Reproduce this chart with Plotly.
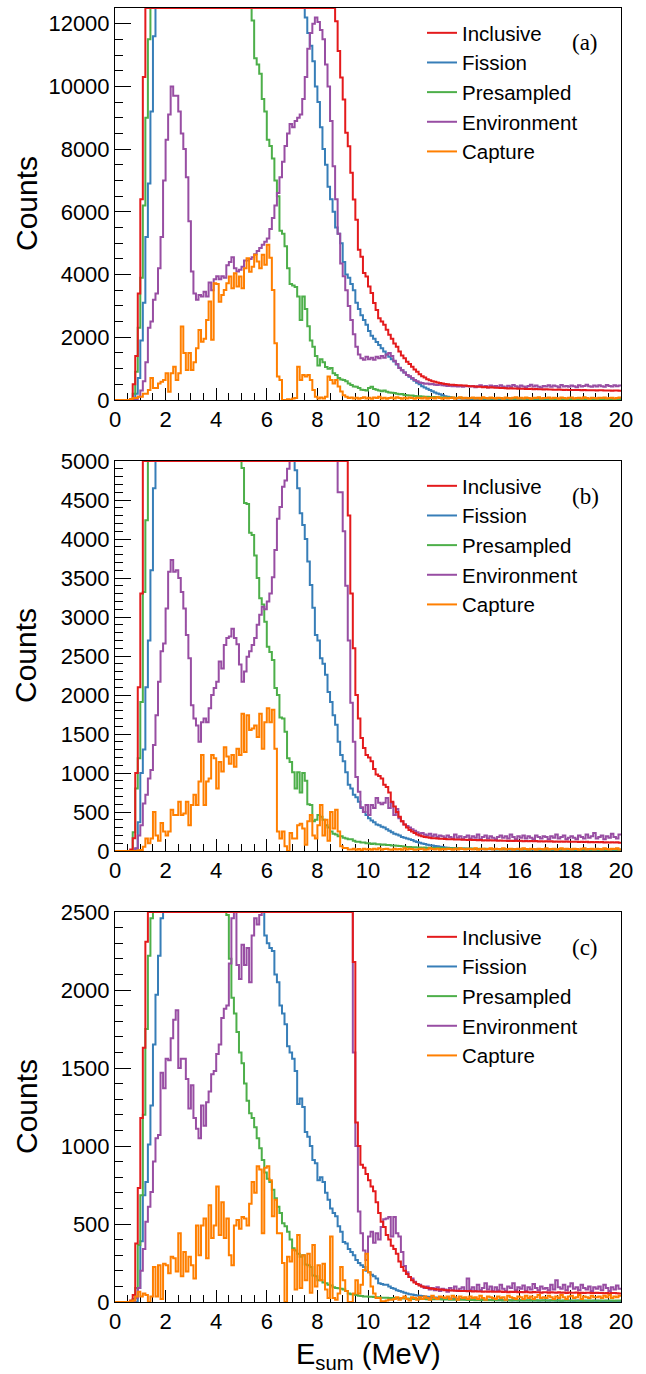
import numpy as np
import plotly.graph_objects as go

# ---------------- binning ----------------
BIN_WIDTH = 0.1            # MeV
N_BINS = 200               # 0 .. 20 MeV
X_MAX = 20

# ---------------- panel (a) ----------------
INCLUSIVE_A = [
    0, 0, 0, 0, 0, 0, 30, 500, 1400, 3400,
    6400, 10300, 15000, 19500, 23500, 27000, 30000, 32000, 33500, 34500,
    35500, 36500, 37000, 37000, 36500, 35500, 34500, 33500, 32500, 31500,
    31000, 30500, 30000, 30000, 30000, 30500, 31000, 31500, 32000, 32500,
    33000, 33500, 34000, 34500, 35000, 35000, 35500, 36000, 36500, 37000,
    37500, 38000, 38000, 38500, 38500, 38000, 37500, 37000, 36000, 35000,
    34000, 33000, 32000, 31000, 30000, 29000, 28000, 27000, 26000, 25000,
    24500, 24000, 23500, 23000, 22000, 21000, 20000, 19000, 18000, 17000,
    16000, 15000, 14500, 14000, 13500, 13000, 12800, 12080, 11130, 10280,
    9580, 8520, 8090, 7250, 6390, 5750, 4790, 4570, 4050, 3940,
    3620, 3410, 3090, 2870, 2610, 2500, 2400, 2240, 2080, 1950,
    1800, 1700, 1550, 1420, 1330, 1220, 1150, 1060, 970, 900,
    820, 760, 720, 660, 630, 600, 580, 560, 540, 530,
    510, 500, 490, 490, 480, 470, 470, 460, 460, 450,
    440, 435, 430, 425, 420, 410, 415, 400, 405, 395,
    390, 392, 380, 385, 378, 370, 372, 365, 368, 360,
    362, 355, 352, 350, 355, 345, 348, 340, 342, 338,
    340, 332, 335, 330, 328, 332, 325, 322, 326, 320,
    322, 318, 315, 320, 312, 316, 310, 314, 308, 312,
    305, 308, 310, 302, 305, 300, 298, 304, 300, 296,
]
FISSION_A = [
    0, 0, 0, 0, 0, 0, 0, 0, 200, 700,
    1900, 3100, 5200, 6900, 9200, 11600, 14000, 17000, 20000, 22000,
    24000, 25000, 26000, 26500, 27000, 27000, 27000, 26500, 26000, 25500,
    25000, 25000, 25000, 25000, 25500, 26000, 26000, 26500, 27000, 27000,
    27500, 28000, 28000, 28500, 28500, 29000, 29000, 29000, 29000, 29000,
    29000, 28500, 28500, 28000, 27500, 27000, 26500, 26000, 25000, 24000,
    23000, 22000, 21000, 20000, 19000, 18000, 17000, 16000, 15500, 15000,
    14500, 14000, 13500, 13000, 12700, 12200, 11700, 11300, 10800, 10000,
    9500, 8700, 8000, 7500, 6800, 6400, 6000, 5500, 5300, 5000,
    4400, 4000, 3900, 3700, 3500, 3100, 2900, 2700, 2550, 2400,
    2200, 2050, 1950, 1850, 1750, 1650, 1550, 1450, 1380, 1300,
    1230, 1130, 1030, 950, 880, 800, 740, 680, 610, 550,
    500, 440, 400, 360, 320, 280, 240, 210, 180, 150,
    120, 100, 85, 70, 60, 50, 45, 40, 38, 35,
    33, 30, 32, 28, 30, 27, 25, 28, 24, 22,
    25, 22, 20, 23, 19, 21, 18, 20, 17, 19,
    18, 16, 19, 15, 17, 16, 14, 17, 15, 13,
    16, 14, 15, 13, 15, 12, 14, 13, 11, 14,
    12, 13, 11, 12, 10, 13, 11, 10, 12, 10,
    11, 9, 12, 10, 9, 11, 10, 8, 10, 9,
]
PRESAMPLED_A = [
    0, 0, 0, 0, 0, 0, 0, 200, 900, 2300,
    3900, 6200, 9000, 11500, 14000, 16000, 18000, 19500, 20500, 21500,
    22000, 22500, 22800, 23000, 23000, 22800, 22500, 22000, 21800, 21500,
    21200, 21000, 20800, 20500, 20200, 20000, 19700, 19400, 19000, 18700,
    18400, 18000, 17700, 17400, 17000, 16700, 16400, 16000, 15700, 15400,
    15000, 14600, 14200, 13600, 12100, 10900, 10700, 10400, 9600, 9200,
    8300, 8100, 7700, 7000, 6500, 5400, 5300, 4900, 4200, 3700,
    3650, 3600, 3300, 2550, 3300, 2900, 2350, 1900, 1700, 1400,
    1100, 1300, 1200, 1050, 1000, 1020, 850, 800, 700, 650,
    640, 600, 530, 480, 430, 420, 380, 330, 320, 300,
    380, 420, 350, 330, 300, 280, 300, 260, 240, 230,
    220, 200, 180, 190, 160, 150, 140, 140, 130, 120,
    120, 110, 105, 100, 95, 90, 92, 85, 88, 82,
    80, 75, 78, 70, 72, 66, 70, 62, 65, 60,
    58, 62, 55, 60, 52, 56, 50, 54, 48, 52,
    50, 46, 52, 44, 48, 45, 50, 42, 46, 44,
    45, 40, 44, 38, 42, 40, 36, 42, 38, 40,
    36, 40, 34, 38, 35, 32, 38, 34, 30, 36,
    34, 30, 35, 32, 28, 34, 30, 33, 28, 31,
    30, 34, 28, 32, 30, 27, 33, 29, 31, 35,
]
ENVIRONMENT_A = [
    0, 0, 0, 0, 0, 0, 0, 0, 0, 100,
    300, 600, 1200, 2300, 2500, 3200, 3400, 4200, 5200, 7000,
    8300, 9100, 10000, 9700, 9700, 9200, 8500, 8000, 7100, 5700,
    4100, 3400, 3200, 3350, 3300, 3450, 3300, 3750, 3500, 3850,
    3950, 3850, 3950, 3900, 4300, 4400, 4550, 4200, 4100, 4150,
    4250, 4450, 4450, 4500, 4550, 4650, 4750, 4850, 4950, 5050,
    5150, 5450, 5800, 6200, 6600, 7100, 7600, 8100, 8500, 8800,
    8700, 8900, 9000, 9100, 9600, 10300, 11200, 11700, 12000, 12200,
    12050, 11800, 11500, 10700, 10000, 8900, 7450, 6400, 5300, 4350,
    3950, 3500, 3000, 2550, 2100, 1700, 1450, 1330, 1280, 1380,
    1300, 1350, 1280, 1380, 1330, 1400, 1350, 1450, 1500, 1400,
    1250, 1150, 1020, 950, 880, 800, 760, 700, 640, 600,
    560, 540, 520, 530, 500, 510, 490, 480, 500, 470,
    460, 450, 455, 440, 450, 430, 445, 420, 440, 435,
    430, 450, 410, 440, 470, 420, 445, 400, 460, 430,
    450, 410, 470, 430, 400, 455, 420, 480, 440, 410,
    460, 430, 410, 450, 490, 430, 460, 420, 400, 450,
    430, 470, 420, 460, 440, 410, 480, 430, 450, 420,
    460, 440, 410, 470, 430, 450, 490, 440, 420, 460,
    430, 470, 440, 420, 480, 450, 430, 470, 440, 460,
]
CAPTURE_A = [
    0, 0, 0, 0, 0, 0, 30, 60, 60, 100,
    100, 200, 200, 320, 700, 380, 380, 530, 580, 640,
    850, 260, 850, 1060, 640, 850, 2340, 1500, 960, 1500,
    960, 1200, 1650, 2230, 1860, 1950, 2550, 3140, 1920, 3720,
    3700, 3130, 3350, 3510, 3720, 3940, 3560, 4040, 3620, 3940,
    3560, 4200, 4520, 4090, 4250, 4630, 4420, 4200, 4630, 4310,
    4950, 4540, 3510, 1810, 750, 640, 0, 0, 20, 0,
    50, 60, 1060, 640, 800, 750, 800, 640, 320, 100,
    50, 80, 50, 100, 750, 640, 530, 640, 430, 270,
    150, 100, 60, 80, 50, 70, 40, 60, 90, 50,
    70, 40, 80, 60, 100, 50, 70, 40, 60, 80,
    50, 90, 60, 40, 70, 50, 80, 60, 40, 70,
    60, 50, 80, 40, 60, 70, 50, 90, 60, 40,
    70, 50, 60, 80, 40, 60, 90, 50, 70, 50,
    60, 80, 50, 70, 40, 90, 60, 50, 80, 60,
    50, 70, 60, 40, 80, 60, 50, 70, 90, 50,
    70, 50, 80, 60, 40, 70, 60, 90, 50, 60,
    60, 80, 50, 70, 60, 40, 80, 60, 50, 70,
    80, 50, 60, 70, 50, 90, 60, 40, 70, 60,
    50, 70, 60, 80, 50, 60, 70, 50, 60, 80,
]

# ---------------- panel (b) ----------------
INCLUSIVE_B = [
    0, 0, 0, 0, 0, 0, 20, 165, 1000, 2100,
    3300, 5600, 7500, 9000, 10000, 10800, 11500, 12000, 12500, 12800,
    13000, 13200, 13300, 13300, 13200, 13000, 12800, 12500, 12200, 12000,
    11800, 11600, 11500, 11500, 11500, 11600, 11700, 11800, 12000, 12100,
    12200, 12300, 12400, 12500, 12600, 12700, 12700, 12800, 12800, 12800,
    12800, 12700, 12600, 12500, 12300, 12100, 11900, 11600, 11300, 11000,
    10700, 10400, 10100, 9800, 9500, 9200, 8900, 8600, 8400, 8200,
    8000, 7800, 7600, 7400, 7200, 7000, 6800, 6600, 6400, 6200,
    6000, 5900, 5800, 5700, 5600, 5500, 5400, 5300, 5200, 5100,
    5100, 5050, 4300, 3300, 2600, 2000, 1700, 1450, 1320, 1230,
    1200, 1150, 1050, 980, 960, 930, 850, 820, 750, 630,
    570, 500, 440, 380, 340, 300, 270, 250, 230, 210,
    200, 190, 180, 175, 170, 165, 162, 160, 158, 156,
    155, 152, 150, 150, 148, 146, 148, 145, 144, 142,
    145, 140, 142, 138, 140, 136, 139, 135, 137, 134,
    136, 132, 134, 130, 133, 129, 131, 128, 132, 127,
    130, 126, 129, 125, 128, 124, 127, 123, 126, 122,
    125, 121, 124, 120, 123, 119, 122, 118, 121, 117,
    120, 117, 119, 115, 118, 114, 117, 113, 116, 112,
    115, 112, 114, 110, 113, 109, 112, 108, 111, 107,
]
FISSION_B = [
    0, 0, 0, 0, 0, 0, 0, 0, 30, 370,
    1000, 1300, 2100, 2700, 3600, 4650, 5800, 7000, 8000, 9000,
    9800, 10300, 10700, 11000, 11200, 11300, 11400, 11400, 11400, 11300,
    11200, 11100, 11000, 11000, 11000, 11000, 11100, 11200, 11300, 11400,
    11500, 11600, 11700, 11700, 11800, 11800, 11800, 11700, 11600, 11500,
    11300, 11100, 10900, 10700, 10400, 10100, 9800, 9500, 9200, 8900,
    8600, 8300, 8000, 7700, 7400, 7100, 6800, 6500, 6200, 5900,
    5500, 4880, 4650, 4330, 4180, 4000, 3710, 3410, 3120, 2770,
    2700, 2470, 2400, 2260, 2040, 1910, 1740, 1620, 1400, 1230,
    1150, 1010, 850, 800, 720, 690, 630, 550, 500, 460,
    420, 390, 370, 340, 330, 310, 300, 280, 260, 240,
    220, 210, 200, 180, 170, 160, 150, 140, 125, 115,
    105, 95, 90, 80, 75, 70, 65, 60, 55, 50,
    45, 42, 40, 38, 36, 35, 33, 32, 30, 29,
    28, 27, 26, 25, 24, 23, 24, 22, 21, 22,
    20, 21, 19, 20, 18, 19, 17, 18, 16, 17,
    16, 15, 17, 14, 16, 15, 13, 15, 14, 13,
    14, 12, 13, 12, 14, 11, 13, 12, 11, 12,
    11, 12, 10, 11, 12, 10, 11, 9, 10, 11,
    10, 9, 11, 10, 8, 10, 9, 10, 8, 9,
]
PRESAMPLED_B = [
    0, 0, 0, 0, 0, 0, 0, 240, 800, 1190,
    1910, 3320, 4240, 5800, 7000, 8000, 8800, 9400, 9800, 10000,
    10100, 10100, 10000, 9900, 9800, 9700, 9500, 9300, 9100, 8900,
    8700, 8500, 8300, 8100, 7900, 7700, 7500, 7300, 7100, 6900,
    6700, 6500, 6300, 6200, 6000, 5900, 5700, 5600, 5400, 5200,
    4910, 4460, 4450, 4080, 4050, 3790, 3500, 3240, 3160, 2940,
    2620, 2550, 2450, 2090, 2000, 1710, 1700, 1530, 1190, 1140,
    1010, 800, 1010, 750, 1000, 900, 600, 590, 380, 400,
    460, 440, 400, 330, 300, 250, 220, 210, 190, 190,
    170, 160, 150, 150, 130, 120, 120, 110, 110, 100,
    100, 90, 95, 85, 88, 80, 82, 76, 78, 72,
    70, 68, 64, 60, 56, 52, 50, 48, 47, 45,
    45, 43, 44, 40, 42, 38, 40, 37, 38, 35,
    35, 33, 36, 32, 34, 30, 33, 29, 31, 30,
    31, 28, 30, 27, 29, 26, 28, 25, 27, 26,
    27, 24, 26, 23, 25, 22, 26, 23, 24, 22,
    24, 21, 23, 20, 24, 21, 22, 19, 23, 20,
    22, 19, 21, 18, 22, 20, 19, 21, 18, 20,
    20, 18, 21, 17, 19, 20, 18, 21, 17, 19,
    19, 17, 20, 18, 16, 19, 18, 20, 17, 18,
]
ENVIRONMENT_B = [
    0, 0, 0, 0, 0, 0, 0, 0, 35, 200,
    330, 610, 720, 930, 1040, 1360, 1740, 2170, 2560, 2660,
    3110, 3580, 3730, 3580, 3600, 3500, 3320, 3110, 2770, 2470,
    1870, 1700, 1610, 1400, 1650, 1700, 1650, 1830, 2000, 2090,
    2170, 2430, 2340, 2640, 2730, 2750, 2850, 2730, 2650, 2390,
    2170, 2300, 2490, 2560, 2640, 2730, 2900, 3030, 3130, 3100,
    3200, 3300, 3510, 3860, 4260, 4410, 4670, 4750, 4900, 5300,
    5800, 6200, 6500, 6800, 7000, 7100, 7100, 7000, 6800, 6600,
    6400, 6200, 6000, 5800, 5600, 5400, 5200, 5100, 4600, 4600,
    4100, 3400, 2700, 1900, 1400, 950, 760, 560, 500, 590,
    460, 590, 550, 680, 620, 600, 620, 680, 550, 620,
    460, 540, 420, 380, 340, 320, 300, 280, 260, 240,
    220, 230, 210, 200, 220, 190, 210, 180, 200, 190,
    170, 200, 180, 160, 210, 170, 190, 150, 180, 200,
    160, 190, 170, 210, 150, 180, 200, 160, 190, 170,
    150, 180, 200, 170, 190, 160, 210, 180, 150, 190,
    170, 200, 160, 190, 170, 150, 200, 180, 160, 190,
    180, 150, 190, 170, 210, 160, 180, 200, 150, 170,
    190, 170, 150, 200, 180, 160, 210, 170, 190, 230,
    160, 180, 200, 150, 190, 170, 220, 180, 160, 210,
]
CAPTURE_B = [
    0, 0, 0, 0, 0, 0, 0, 0, 0, 10,
    13, 56, 160, 100, 160, 500, 200, 130, 360, 250,
    200, 250, 530, 460, 460, 630, 460, 480, 630, 330,
    590, 720, 590, 890, 1230, 590, 890, 930, 1230, 1190,
    800, 1140, 1020, 1330, 1210, 1120, 1230, 1080, 1310, 1230,
    1760, 1270, 1740, 1550, 1570, 1610, 1460, 1760, 1310, 1650,
    1830, 1650, 1810, 1310, 250, 160, 250, 60, 0, 230,
    160, 160, 330, 350, 290, 80, 380, 460, 200, 160,
    330, 590, 200, 400, 130, 500, 290, 530, 250, 60,
    40, 40, 20, 20, 30, 15, 25, 10, 30, 20,
    25, 15, 30, 20, 35, 15, 25, 30, 20, 15,
    30, 20, 25, 15, 35, 20, 30, 25, 15, 20,
    25, 30, 15, 20, 35, 25, 20, 30, 15, 25,
    20, 30, 25, 15, 30, 20, 35, 25, 20, 30,
    25, 20, 35, 15, 25, 30, 20, 25, 35, 20,
    30, 25, 20, 35, 20, 25, 30, 15, 25, 30,
    20, 35, 25, 20, 30, 25, 15, 30, 25, 20,
    35, 20, 25, 30, 15, 25, 35, 20, 30, 25,
    20, 30, 25, 15, 30, 35, 20, 25, 30, 20,
    30, 25, 20, 35, 25, 20, 30, 25, 35, 20,
]

# ---------------- panel (c) ----------------
INCLUSIVE_C = [
    0, 0, 0, 0, 0, 0, 10, 45, 375, 730,
    1180, 1630, 2310, 2900, 3400, 3800, 4100, 4300, 4500, 4600,
    4700, 4750, 4800, 4800, 4750, 4700, 4650, 4600, 4550, 4500,
    4450, 4400, 4400, 4400, 4450, 4500, 4550, 4600, 4650, 4700,
    4800, 4900, 5000, 5100, 5200, 5300, 5350, 5400, 5450, 5500,
    5500, 5500, 5450, 5400, 5300, 5200, 5100, 5000, 4900, 4800,
    4700, 4600, 4500, 4400, 4300, 4200, 4100, 4000, 3900, 3800,
    3700, 3600, 3500, 3400, 3300, 3200, 3150, 3100, 3050, 3000,
    2950, 2900, 2850, 2800, 2750, 2700, 2700, 2650, 2650, 2600,
    2600, 2600, 2600, 2600, 2180, 1150, 1000, 880, 860, 820,
    780, 740, 710, 640, 570, 515, 480, 430, 400, 360,
    340, 310, 260, 225, 200, 180, 160, 140, 125, 115,
    105, 100, 95, 90, 88, 85, 83, 80, 80, 78,
    76, 75, 74, 73, 72, 72, 71, 70, 70, 69,
    70, 68, 69, 67, 68, 66, 68, 65, 67, 66,
    66, 65, 67, 64, 66, 63, 65, 64, 66, 63,
    64, 62, 65, 63, 61, 64, 62, 63, 60, 62,
    63, 60, 62, 61, 59, 62, 60, 61, 58, 61,
    60, 59, 61, 58, 60, 57, 59, 60, 58, 57,
    59, 57, 58, 56, 58, 55, 57, 58, 56, 55,
]
FISSION_C = [
    0, 0, 0, 0, 0, 0, 0, 0, 0, 90,
    390, 685, 770, 1010, 1260, 1650, 1970, 2220, 2460, 2700,
    2900, 3100, 3300, 3450, 3550, 3650, 3700, 3750, 3800, 3850,
    3850, 3900, 3900, 3950, 3950, 4000, 4000, 4000, 3950, 3900,
    3850, 3800, 3700, 3600, 3500, 3400, 3300, 3200, 3100, 3000,
    2950, 2900, 2850, 2800, 2750, 2700, 2650, 2600, 2550, 2350,
    2300, 2270, 2250, 2100, 2050, 1900, 1850, 1780, 1640, 1600,
    1560, 1480, 1270, 1305, 1250, 1090, 1060, 1000, 910, 890,
    780, 800, 770, 700, 655, 600, 570, 550, 485, 450,
    385, 375, 340, 320, 300, 270, 250, 235, 225, 200,
    190, 175, 165, 150, 120, 115, 110, 110, 100, 90,
    85, 75, 70, 65, 60, 55, 50, 48, 45, 42,
    40, 38, 36, 34, 32, 30, 29, 28, 27, 26,
    25, 24, 23, 22, 21, 20, 20, 19, 18, 18,
    17, 16, 17, 15, 16, 14, 15, 14, 13, 14,
    13, 12, 13, 11, 12, 11, 12, 10, 11, 10,
    11, 10, 9, 10, 11, 9, 10, 8, 9, 10,
    9, 8, 10, 9, 8, 9, 7, 8, 9, 8,
    8, 7, 9, 8, 7, 8, 6, 8, 7, 8,
    7, 8, 6, 7, 8, 6, 7, 6, 7, 6,
]
PRESAMPLED_C = [
    0, 0, 0, 0, 0, 0, 0, 20, 90, 365,
    685, 1200, 1750, 2220, 2460, 2800, 3100, 3300, 3500, 3600,
    3700, 3750, 3750, 3700, 3650, 3600, 3550, 3500, 3450, 3400,
    3350, 3300, 3250, 3200, 3150, 3100, 3050, 3000, 2950, 2900,
    2850, 2800, 2750, 2650, 2480, 2200, 1950, 1850, 1730, 1600,
    1530, 1400, 1290, 1210, 1180, 1120, 1050, 985, 910, 830,
    790, 770, 720, 665, 610, 570, 505, 485, 450, 400,
    345, 330, 310, 290, 300, 240, 235, 225, 170, 165,
    140, 140, 125, 120, 110, 105, 95, 90, 88, 85,
    80, 70, 55, 50, 48, 45, 40, 38, 36, 35,
    34, 33, 32, 30, 30, 28, 28, 27, 26, 25,
    25, 24, 24, 23, 22, 22, 21, 21, 20, 20,
    20, 19, 19, 18, 18, 18, 17, 17, 17, 16,
    16, 16, 15, 15, 15, 14, 14, 14, 14, 13,
    13, 14, 12, 13, 12, 13, 11, 12, 13, 11,
    12, 11, 12, 10, 12, 11, 10, 12, 11, 10,
    11, 10, 12, 10, 11, 9, 11, 10, 9, 11,
    10, 9, 11, 10, 9, 10, 8, 10, 9, 10,
    9, 10, 8, 9, 10, 8, 9, 10, 8, 9,
    9, 8, 10, 9, 8, 9, 10, 8, 9, 10,
]
ENVIRONMENT_C = [
    0, 0, 0, 0, 0, 0, 0, 0, 25, 90,
    200, 340, 515, 610, 705, 900, 1050, 1070, 1470, 1370,
    1560, 1550, 1690, 1810, 1870, 1500, 1560, 1560, 1430, 1240,
    1390, 1180, 1110, 1050, 1260, 1130, 1280, 1350, 1460, 1480,
    1590, 1650, 1820, 1880, 1900, 2170, 2460, 2550, 2160, 2070,
    2290, 2160, 2270, 2050, 2350, 2460, 2420, 2480, 2600, 2700,
    2800, 2900, 3000, 3100, 3200, 3300, 3400, 3500, 3600, 3700,
    3800, 3900, 4000, 4000, 4000, 3900, 3800, 3700, 3600, 3500,
    3400, 3300, 3200, 3100, 3000, 2950, 2900, 2850, 2800, 2750,
    2700, 2650, 2600, 2600, 1600, 1000, 580, 440, 330, 270,
    420, 450, 380, 440, 400, 480, 530, 535, 545, 420,
    545, 440, 420, 320, 230, 190, 160, 150, 130, 115,
    110, 100, 90, 100, 80, 90, 75, 95, 70, 85,
    80, 65, 90, 75, 100, 70, 85, 95, 70, 150,
    80, 95, 70, 110, 75, 90, 120, 80, 100, 70,
    95, 75, 110, 85, 70, 100, 90, 120, 75, 95,
    85, 105, 70, 95, 80, 115, 90, 75, 100, 85,
    90, 75, 110, 80, 140, 95, 85, 110, 75, 100,
    120, 85, 95, 75, 110, 90, 80, 100, 70, 95,
    85, 100, 75, 110, 90, 70, 95, 80, 105, 85,
]
CAPTURE_C = [
    0, 0, 0, 0, 0, 0, 5, 10, 35, 65,
    35, 55, 45, 0, 35, 225, 35, 235, 20, 245,
    235, 185, 290, 280, 195, 440, 165, 320, 195, 290,
    235, 150, 490, 300, 490, 535, 280, 620, 410, 490,
    740, 430, 640, 410, 535, 300, 235, 490, 525, 470,
    545, 535, 490, 630, 770, 700, 870, 850, 440, 860,
    870, 780, 550, 655, 440, 440, 250, 0, 290, 260,
    335, 80, 430, 90, 300, 140, 310, 60, 365, 100,
    235, 140, 245, 80, 25, 420, 25, 15, 55, 225,
    140, 70, 0, 0, 55, 140, 55, 110, 205, 310,
    190, 100, 55, 25, 25, 5, 5, 10, 15, 15,
    20, 30, 15, 25, 35, 20, 10, 30, 25, 15,
    30, 20, 35, 25, 15, 40, 25, 20, 35, 30,
    25, 35, 20, 40, 30, 15, 35, 25, 30, 20,
    35, 25, 30, 20, 40, 25, 15, 35, 30, 25,
    20, 35, 25, 30, 15, 40, 30, 25, 20, 35,
    30, 20, 40, 25, 35, 20, 30, 45, 25, 30,
    25, 40, 30, 20, 35, 25, 45, 30, 20, 35,
    40, 25, 30, 45, 20, 35, 30, 25, 40, 30,
    30, 35, 25, 40, 30, 45, 25, 35, 30, 40,
]

SERIES = ["Inclusive", "Fission", "Presampled", "Environment", "Capture"]
COLORS = {
    "Inclusive": "#e41a1c",
    "Fission": "#377eb8",
    "Presampled": "#4daf4a",
    "Environment": "#984ea3",
    "Capture": "#ff7f00",
}
# drawing order (later = on top); legend order follows SERIES
DRAW_ORDER = ["Fission", "Presampled", "Environment", "Inclusive", "Capture"]

PANELS = [
    dict(tag="(a)", ymax=12500, ydtick=2000, ytop_tick=12000, yminor=500,
         data=dict(Inclusive=INCLUSIVE_A, Fission=FISSION_A, Presampled=PRESAMPLED_A,
                   Environment=ENVIRONMENT_A, Capture=CAPTURE_A)),
    dict(tag="(b)", ymax=5000, ydtick=500, ytop_tick=5000, yminor=100,
         data=dict(Inclusive=INCLUSIVE_B, Fission=FISSION_B, Presampled=PRESAMPLED_B,
                   Environment=ENVIRONMENT_B, Capture=CAPTURE_B)),
    dict(tag="(c)", ymax=2500, ydtick=500, ytop_tick=2500, yminor=100,
         data=dict(Inclusive=INCLUSIVE_C, Fission=FISSION_C, Presampled=PRESAMPLED_C,
                   Environment=ENVIRONMENT_C, Capture=CAPTURE_C)),
]

# ---------------- layout geometry (window pixels) ----------------
W, H = 646, 1374
PLOT_LEFT, PLOT_RIGHT = 115, 621
PANEL_TOPS = [8, 461, 912]
PANEL_BOTTOMS = [400, 851, 1302]


def px_x(x):
    return x / W


def px_y(y):
    return 1 - y / H


SANS = "Liberation Sans, Arial, Helvetica, sans-serif"
SERIF = "Liberation Serif, Times New Roman, serif"

edges = np.round(np.arange(N_BINS + 1) * BIN_WIDTH, 1)

fig = go.Figure()
layout = dict(
    template="none",
    width=W, height=H, autosize=False,
    margin=dict(l=0, r=0, t=0, b=0, pad=0, autoexpand=False),
    paper_bgcolor="white", plot_bgcolor="white",
    font=dict(family=SANS, color="black", size=22),
    showlegend=True,
)
annotations = []

for p, panel in enumerate(PANELS):
    sfx = "" if p == 0 else str(p + 1)
    xref, yref = "x" + sfx, "y" + sfx
    legend_id = "legend" + sfx
    ymax = panel["ymax"]
    for name in DRAW_ORDER:
        vals = np.asarray(panel["data"][name], dtype=float)
        shown = np.minimum(vals, ymax)          # overflow drawn on the frame, ROOT style
        yy = np.append(shown, shown[-1])
        fig.add_trace(go.Scatter(
            x=edges, y=yy, mode="lines",
            line=dict(shape="hv", width=2, color=COLORS[name]),
            name=name, legend=legend_id, legendrank=SERIES.index(name) + 1,
            xaxis=xref, yaxis=yref, hoverinfo="skip",
        ))

    top, bot = PANEL_TOPS[p], PANEL_BOTTOMS[p]
    ydom = [px_y(bot), px_y(top)]
    axis_common = dict(
        showline=True, mirror=True, linecolor="black", linewidth=1,
        showgrid=False, zeroline=False, ticks="inside", tickcolor="black",
        tickwidth=1, layer="below traces", automargin=False,
        tickfont=dict(family=SANS, size=22, color="black"),
    )
    layout["xaxis" + sfx] = dict(
        axis_common, domain=[px_x(PLOT_LEFT), px_x(PLOT_RIGHT)], range=[0, X_MAX],
        anchor=yref, tickmode="array", tickvals=list(range(0, X_MAX + 1, 2)),
        tickformat="d", ticklen=12,
        minor=dict(dtick=0.5, tick0=0, ticklen=7, ticks="inside",
                   tickcolor="black", tickwidth=1, showgrid=False),
    )
    layout["yaxis" + sfx] = dict(
        axis_common, domain=ydom, range=[0, ymax], anchor=xref,
        tickmode="array",
        tickvals=list(range(0, panel["ytop_tick"] + 1, panel["ydtick"])),
        tickformat="d", ticklen=16,
        minor=dict(dtick=panel["yminor"], tick0=0, ticklen=8, ticks="inside",
                   tickcolor="black", tickwidth=1, showgrid=False),
    )
    layout[legend_id] = dict(
        x=px_x(422), xanchor="left", y=px_y(top + 5), yanchor="top",
        bgcolor="rgba(0,0,0,0)", borderwidth=0,
        font=dict(family=SANS, size=20.5, color="black"),
        itemwidth=30, tracegroupgap=0,
    )
    annotations.append(dict(
        text="Counts", xref="paper", yref="paper", x=px_x(26),
        y=(ydom[0] + ydom[1]) / 2, textangle=-90, showarrow=False,
        font=dict(family=SANS, size=30, color="black"),
        xanchor="center", yanchor="middle",
    ))
    annotations.append(dict(
        text=panel["tag"], xref="paper", yref="paper", x=px_x(585),
        y=px_y(top + 35), showarrow=False,
        font=dict(family=SERIF, size=23, color="black"),
        xanchor="center", yanchor="middle",
    ))

annotations.append(dict(
    text="E<sub>sum</sub> (MeV)", xref="paper", yref="paper",
    x=px_x((PLOT_LEFT + PLOT_RIGHT) / 2), y=px_y(1356), showarrow=False,
    font=dict(family=SANS, size=29, color="black"),
    xanchor="center", yanchor="middle",
))
layout["annotations"] = annotations
fig.update_layout(**layout)

# the figure fills the whole 646x1374 window: drop the browser's default body margin
fig.write_html(
    "out.html",
    config={"displayModeBar": False},
    post_script="document.body.style.margin='0';"
                "document.documentElement.style.overflow='hidden';",
)
